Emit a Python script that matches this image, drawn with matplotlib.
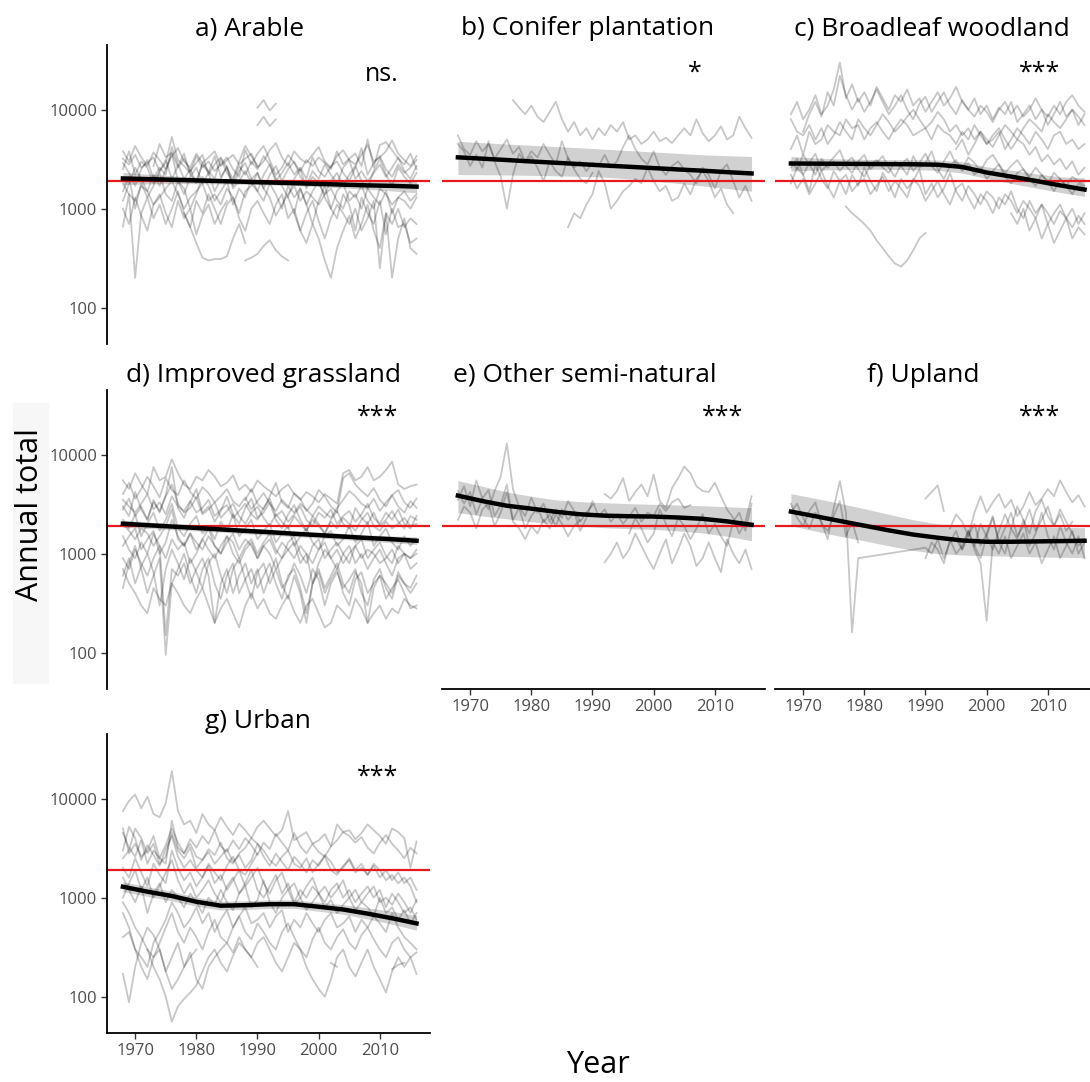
import numpy as np
import matplotlib.pyplot as plt
from matplotlib.ticker import FuncFormatter, NullLocator
from matplotlib.patches import Rectangle

plt.rcParams['font.family'] = ['Open Sans', 'DejaVu Sans']

# reference level (red line)
red_level = 1920

# years of the smoothed fits
fit_years = [1968, 1972, 1976, 1980, 1984, 1988, 1992, 1996, 2000, 2004, 2008, 2012, 2016]

# each site series: (first year, annual totals); None = missing year
arable = [
    (1968, [3200, 2800, 3500, 2600, 2900, 3300, 2400, 2900, 5300, 3100, 2700, 2300, 3400, 2600, 3000, 2400, 2800, 3300, 2500, 2100, 3900, 2800, 3600, 4300, 3100, 2200, 2600, 3500, 2900, 2400, 3100, 2700, 3300, 2900, 2500, 3800, 2800, 3200, 3600, 2700, 5000, 2600, 4400, 4700, 3900, 3200, 2800, 3600, 2500]),
    (1968, [1800, 1400, 1200, 1700, 1500, 1100, 1300, 1600, 1900, 1400, 1000, 1300, 1500, 1800, 1200, 1400, 1100, 1600, 1300, 900, 1500, 1700, 2300, 1600, 1300, 850, 1100, 1400, 1700, 1200, 1500, 1300, 1100, 1400, 1600, 1200, 1000, 1500, 1300, 1700, 1200, 1000, 1600, 1400, 1100, 1300, 1500, 1200, 1400]),
    (1968, [660, 1400, 200, 900, 1300, 800, 1100, 700, 1000, 1500, 900, 650, 1200, 900, 1400, 1000, 700, 1100, 1300, 800, 600, 1000, 1200, 900, 700, 1100, 1400, 800, 1000, 600, 900, 1200, 750, 500, 800, 1100, 900, 700, 1000, 600, 800, 1200, 250, 900, 700, 1000, 650, 800, 700]),
    (1968, [2500, 3800, 2200, 3000, 2600, 1800, 2400, 3100, 2000, 2700, 3600, 2200, 1900, 2800, 2300, 3400, 2100, 2600, 1700, 2400, 2900, 2000, 2300, 1600, 2200, 2700, 1900, 2500, 3000, 2100, 1700, 2400, 2000, 2800, 2200, 1800, 2600, 3100, 2000, 2400, 1900, 2300, 2800, 2100, 2600, 3300, 2400, 2000, 2700]),
    (1968, [1200, 1800, 2600, 2000, 1500, 2200, 1700, 2500, 3600, 1900, 1400, 2100, 2600, 1800, 2300, 1500, 2000, 2700, 1600, 1900, 2400, 1800, 1500, 2200, 2800, 2000, 1700, 1300, 2000, 2500, 1600, 2100, 1800, 1400, 1900, 2300, 1700, 2200, 2700, 1900, 1600, 2400, 3200, 2200, 1700, 2600, 2100, 1800, 2300]),
    (1968, [2900, 2300, 1700, 2500, 3100, 2000, 2600, 2200, 4200, 2800, 2000, 2500, 1800, 2900, 2400, 2000, 3200, 2300, 1900, 2700, 2200, 3000, 2500, 3400, 2800, 1900, 2300, 2900, 2200, 2600, 2000, 3300, 2400, 2100, 2700, 3000, 2300, 1900, 2600, 4100, 2200, 2900, 3400, 2500, 2100, 2800, 2300, 2600, 3100]),
    (1968, [1500, 2100, 1000, 1800, 1300, 1700, 2300, 1400, 1200, 1900, 1600, 1000, 1400, 2100, 1700, 1200, 1500, 1900, 1100, 1600, 1300, 2000, 1500, 1200, 1800, 1400, 1000, 1700, 1300, 1600, 1100, 1500, 1900, 1300, 1000, 1500, 1800, 1200, 1400, 1000, 1600, 1300, 1100, 1500, 900, 1300, 1200, 1000, 1300]),
    (1968, [3800, 3000, 4300, 3300, 2700, 3700, 3100, 2500, 3400, 4100, 3000, 2600, 3600, 2900, 3300, 3800, 2700, 3100, 3500, 2800, 3200, 3600, 2600, 3000, 3900, 4600, 3300, 2700, 3800, 3200, 2900, 3500, 4200, 3000, 2600, 3400, 3900, 3100, 2800, 3500, 4400, 3000, 3300, 3800, 4900, 3600, 3100, 2700, 3400]),
    (1968, [1000, 700, 1300, 850, 600, 1100, 1400, 900, 650, 1200, 800, 1000, 550, 850, 1100, 700, 950, 1200]),
    (1995, [1300, 900, 1600, 1100, 700, 1200, 1700, 1000, 800, 1400, 1100, 600, 1300, 900, 700, 1200, 550, 1000, 650, 700, 450, 500]),
    (1973, [2700, 4500, 3300, 3700, 2600, 3200, 2400, 2900, 3500, 2200, 2800, 3300, 2600, 2000, 3000, 4300, 3400, 2700]),
    (1990, [10500, 12500, 9800, 11500]),
    (1990, [7000, 8500, 6800, 8000]),
    (1978, [900, 650, 450, 320, 300, 310, 310, 330, 500, 700, 450]),
    (1988, [300, 320, 350, 420, 480, 380, 330, 300]),
    (1996, [900, 600, 450, 700, 500, 300, 200, 400, 600, 850, 500, 700, 1100, 600, 400, 900, 200, 500, 800, 400, 350]),
]
arable_fit = [2020, 1990, 1960, 1930, 1900, 1870, 1840, 1810, 1780, 1750, 1720, 1700, 1670]
arable_lo = [1750, 1780, 1790, 1790, 1780, 1760, 1740, 1710, 1670, 1620, 1570, 1510, 1450]
arable_hi = [2330, 2230, 2150, 2080, 2020, 1980, 1950, 1920, 1900, 1890, 1890, 1900, 1920]

conifer = [
    (1977, [12500, 10500, 9000, 11000, 8500, 7500, 9500, 12000, 8000, 6000, 7500, 5500, 6500, 5000, 6500, 5500, 7000, 6000, 7500, 5000, 5500, 4500, 5000, 6000, 4800, 5200, 4600, 5500, 6500, 5500, 8000, 5800, 4800, 5500, 6800, 5000, 5500, 8500, 6500, 5200]),
    (1968, [5500, 4000, 3500, 4800, 3800, 4500, 3200, 4000, 5000, 3600, 4200, 3000, 3800, 3300, 4500, 3500, 2800, 4800, 3200, 2600, 3000, 2400, 2900, 2700, 3500, 2600, 3000, 4200, 5500, 4000, 3200, 2800, 3800, 2600, 2200, 2700, 3000, 2500, 2200, 1800, 2600, 2200, 1600, 2400, 2800, 1900, 1300, 1700, 1200]),
    (1968, [4500, 3800, 2700, 3500, 2600, 4800, 3000, 2100, 1000, 2200, 3600, 2900, 3400, 2600, 1900, 3000, 2400, 2100, 3300, 2500, 2000, 1800, 2300]),
    (1986, [650, 900, 800, 1100, 1400, 2400, 1800, 1000, 1200, 1500, 1700, 2000, 1800, 2600, 1900, 1500, 1700, 1200, 1300, 1800, 1400, 2000, 2400, 1900, 1300, 1600, 1100, 900]),
]
conifer_fit = [3300, 3200, 3100, 3000, 2910, 2820, 2730, 2650, 2570, 2490, 2420, 2340, 2270]
conifer_lo = [2210, 2200, 2190, 2170, 2150, 2120, 2080, 2000, 1900, 1800, 1700, 1600, 1500]
conifer_hi = [4790, 4640, 4500, 4370, 4240, 4120, 3990, 3860, 3740, 3620, 3500, 3430, 3370]

broadleaf = [
    (1968, [9000, 12000, 8000, 10000, 14000, 9000, 11000, 16000, 30000, 13000, 18000, 12000, 15000, 11000, 17000, 13000, 10000, 14000, 12000, 16000, 11000, 13000, 9500, 12000, 15000, 11000, 13000, 17000, 12000, 10000, 13000, 9000, 11000, 8000, 10500, 9000, 12000, 7500, 9000, 11000, 8000, 10000, 7000, 9000, 12000, 8500, 10000, 7000, 9000]),
    (1968, [4000, 5500, 3500, 6000, 4500, 5000, 7000, 6000, 5500, 8000, 6500, 7000, 5000, 6500, 7500, 6000, 5000, 6500, 8000, 7000, 5500, 6000, 6500, 5000, 7000, 6000, 5500, 4500, 6000, 5000, 7000, 5500, 4500, 5000, 6000, 4000, 5000, 6500, 5500, 4500, 6000, 5000, 4000, 5500, 6000, 4500, 5000, 4000, 4500]),
    (1968, [3000, 2500, 3500, 2800, 2200, 3200, 2600, 3000, 2400, 2900, 3300, 2500, 2100, 2800, 3100, 2600, 2300, 3000, 2700, 2200, 3400, 2600, 2900, 3800, 2500, 2000, 2700, 3100, 2400, 2900, 2200, 2600, 2000, 2400, 2800, 2100, 1800, 2300, 2500, 2000, 1700, 2200, 1900, 1500, 2000, 1700, 1400, 1800, 1600]),
    (1968, [2200, 1600, 2000, 1400, 1800, 2400, 1700, 1300, 1900, 2200, 1500, 1800, 2000, 1400, 1700, 2100, 1500, 1900, 1600, 1300, 2000, 1700, 1200, 1500, 1900, 1400, 1100, 1600, 1800, 1300, 1000, 1400, 1200, 900, 1300, 1100, 1500, 1000, 800, 1200, 900, 1100, 700, 900, 1100, 800, 1000, 700, 900]),
    (1968, [8000, 6000, 5500, 7000, 5000, 6500, 4500, 5500, 7500, 6000, 5000, 8000, 6500, 5500, 7000, 9000, 7500, 6000, 7000, 8500, 10000, 8000, 6500, 7500, 9500, 8000, 6000, 7000, 5500, 6500, 5000, 6000, 4500, 5500, 6500, 5000, 4000, 5000, 4500, 3500, 4200, 3000, 3500, 2800, 3200, 2500, 3000, 2200, 2600]),
    (1968, [1800, 2600, 2200, 1500, 2800, 2000, 1600, 2400, 1900, 1400, 2200, 1700, 2600, 1900, 1500, 2300, 1800, 1300, 2000, 1600, 1900, 2500, 1400, 1800, 1300, 1600, 2300, 1500, 1200, 1700, 1400, 1100, 1500, 1300, 1000, 1400, 1200, 900, 1200, 1000, 800, 1100, 900, 700, 950, 800, 650, 850, 700]),
    (1968, [2600, 3200, 2200, 2900, 3600, 2400, 2800, 3300, 3900, 2700, 2300, 3000, 3500, 2500, 2900, 3400, 2600, 2100, 2800, 3200, 2400, 2900, 3600, 2700, 2300, 3000, 3800, 2800, 2500, 3300, 2900, 2400, 3100, 3500, 2800, 2300, 2700, 3100, 2500, 2100, 2600, 2200, 1800, 2300, 2000, 1700, 2100, 1900, 1700]),
    (1970, [6000, 9000, 12000, 8500, 15000, 11000, 22000, 14000, 10000, 13000, 9500, 12000, 16000, 12000, 9000, 11000, 14000, 10000, 8000, 11500, 13500, 9500, 12000, 15000, 11000, 9000, 12500, 10000, 8500, 11000, 9500, 7500, 10000, 12000, 9000, 11000, 8500, 10000, 13000, 10000, 8500, 11000, 9000, 12000, 14000, 11000, 9500]),
    (1977, [1050, 900, 800, 700, 600, 480, 400, 330, 280, 260, 300, 380, 500, 570]),
    (1995, [4000, 5000, 3500, 4500, 6000, 5000, 4200, 5500, 7000, 6000, 5000, 6500, 8000, 7000, 6000, 9000, 7500, 6500, 8000, 10000, 8500, 7000]),
    (2004, [900, 700, 1000, 600, 800, 500, 700, 450, 600, 800, 500, 650, 550]),
]
broadleaf_fit = [2860, 2850, 2840, 2830, 2820, 2810, 2780, 2640, 2320, 2110, 1910, 1720, 1560]
broadleaf_lo = [2400, 2450, 2480, 2500, 2500, 2480, 2440, 2290, 2010, 1800, 1620, 1460, 1330]
broadleaf_hi = [3370, 3250, 3180, 3150, 3130, 3120, 3100, 2980, 2650, 2450, 2250, 2100, 2050]

grassland = [
    (1968, [5500, 4500, 6500, 5000, 4000, 7500, 5500, 6000, 9000, 6500, 5000, 4500, 6000, 5500, 7000, 6000, 4800, 5200, 6200, 4400, 5000, 4200, 5500, 4800, 4300, 3800, 4500, 5000, 4000, 3500, 4200, 3800, 3300, 4000, 3600, 3200, 6500, 7000, 5500, 6000, 7500, 5500, 6000, 7000, 8500, 5000, 4500, 4800, 5000]),
    (1968, [3500, 3000, 2600, 3200, 4000, 2800, 3300, 2500, 3800, 3000, 2700, 3400, 2600, 2900, 3500, 2400, 2800, 3100, 2300, 2700, 3200, 2500, 2200, 2900, 3600, 2400, 2700, 2100, 2500, 3000, 2200, 1900, 2600, 2300, 2800, 2000, 2400, 2700, 2100, 2500, 3200, 2300, 2000, 2600, 2200, 2800, 2000, 1800, 2400]),
    (1968, [2200, 1800, 2500, 1500, 2000, 2600, 1700, 2200, 3200, 1800, 1500, 2000, 2400, 1600, 1900, 1400, 2100, 1700, 2500, 1500, 1800, 2200, 1400, 1700, 2000, 1300, 1600, 1900, 1200, 1500, 1800, 1300, 1100, 1500, 1700, 1200, 1400, 1900, 1300, 1600, 2100, 1200, 1500, 1800, 1300, 1100, 1500, 1200, 1400]),
    (1968, [1500, 1100, 900, 1300, 1000, 1600, 1200, 900, 1400, 1100, 1300, 800, 1000, 1400, 1100, 900, 1200, 1500, 1000, 800, 1100, 1300, 900, 1200, 1000, 700, 900, 1100, 1300, 800, 1000, 500, 800, 1100, 900, 700, 1000, 1200, 800, 1000, 700, 900, 1100, 800, 600, 900, 1000, 700, 800]),
    (1968, [450, 800, 1200, 700, 400, 600, 900, 95, 500, 700, 1000, 600, 400, 700, 900, 500, 350, 600, 800, 400, 550, 700, 450, 600, 800, 500, 350, 600, 700, 450, 250, 500, 650, 400, 550, 700, 400, 300, 550, 650, 400, 500, 600, 350, 450, 550, 400, 280, 300]),
    (1968, [700, 500, 400, 300, 250, 450, 350, 300, 500, 400, 300, 250, 350, 450, 300, 200, 280, 350, 250, 180, 300, 400, 280, 350, 250, 220, 300, 380, 260, 200, 300, 350, 250, 180, 200, 300, 260, 220, 350, 280, 200, 250, 300, 220, 280, 250, 350, 300, 280]),
    (1968, [4000, 5200, 3600, 4500, 6000, 4800, 3700, 5800, 4400, 3900, 5500, 4200, 3600, 4700, 4100, 3300, 3800, 4500, 3400, 3000, 3700, 2800, 3400, 4100, 3200, 2700, 3500, 3000, 2600, 3200, 2800, 2400, 3000, 2600, 2300, 2900, 3500, 4300, 3800, 3200, 2900, 3600, 2700, 3300, 3900, 3000, 2600, 3400, 2900]),
    (1968, [1200, 1500, 1800, 1100, 1400, 1700, 1000, 1300, 2200, 1500, 1200, 1600, 1100, 1400, 1800, 1200, 1000, 1500, 1300, 900, 1200, 1400, 1000, 1300, 1600, 1100, 900, 1300, 1500, 1000, 800, 1200, 1400, 900, 1100, 1300, 1000, 800, 1200, 1400, 900, 1100, 1300, 950, 800, 1200, 1000, 900, 1100]),
    (1968, [2800, 3600, 2400, 3000, 2200, 3300, 2700, 3800, 5000, 3200, 2600, 2900, 3700, 2500, 2800, 3300, 2300, 2700, 3200, 2400, 2000, 2600, 3000, 2300, 1900, 2500, 2100, 1800, 2400, 2000, 1700, 2200, 1900, 1600, 2100, 1800, 2300, 2000, 1700, 2200, 2600, 1900, 1700, 2100, 1800, 2000, 2300, 1900, 2000]),
    (1968, [2000, 1700, 1400, 1800, 1600, 1200, 1500, 1900, 2800, 1400, 1200, 1600, 1300, 1100, 1500, 1200, 1000, 1300, 1600, 1100, 1400, 1200, 900, 1200, 1400, 1000, 1300, 1100, 900, 1200, 1000, 800, 1100, 1300, 900, 1100, 800, 1000, 1200, 900, 1100, 1000, 800, 900, 1100, 800, 1000, 900, 1000]),
    (1968, [900, 700, 1100, 800, 600, 900, 1200, 150, 700, 600, 800, 500, 700, 900, 600, 200, 500, 700, 400, 600, 800, 500, 700, 400, 600, 900, 500, 350, 600, 400, 200, 500, 700, 450, 600, 800, 500, 400, 650, 500, 200, 450, 600, 500, 400, 650, 500, 450, 600]),
    (1968, [3000, 2400, 4200, 2800, 2200, 3500, 2600, 3900, 7500, 2900, 2300, 3300, 4500, 2600, 3000, 2100, 2700, 3800, 2500, 2000, 2900, 3600, 2300, 2600, 3300, 2200, 1800, 2500, 3100, 2200, 1700, 2400, 2000, 1600, 2200, 2700, 2000, 1800, 2900, 2300, 2000, 2600, 1900, 2200, 2700, 2100, 1800, 2400, 2200]),
    (1968, [600, 900, 500, 750, 1000, 650, 300, 700, 1100, 800, 550, 900, 650, 450, 800, 1000, 600, 400, 700, 900, 550, 350, 650, 800, 500, 700, 450, 550, 800, 600, 400, 700, 550, 300, 500, 650, 450, 550, 700, 400, 300, 550, 700, 450, 350, 600, 500, 400, 500]),
    (1988, [3500, 4500, 3200, 2800, 3800, 5200, 3300, 2900, 4100, 3600, 2700, 3200, 4400, 3800, 3000, 2600, 5800, 6500, 5000, 4300, 3800, 4600, 3500, 3000, 3900, 4400, 3300, 2900, 3600]),
]
grassland_fit = [2010, 1940, 1880, 1820, 1760, 1700, 1650, 1590, 1540, 1490, 1440, 1400, 1350]
grassland_lo = [1850, 1800, 1750, 1700, 1650, 1590, 1540, 1490, 1440, 1390, 1340, 1290, 1240]
grassland_hi = [2180, 2090, 2020, 1950, 1880, 1820, 1760, 1700, 1650, 1600, 1550, 1510, 1480]

seminatural = [
    (1968, [3500, 4800, 3000, 5500, 3600, 2800, 4300, 6000, 13000, 4500, 3000, 2400, 3700, 2600, 3200, 2100, 2800, 2300, 3400, 2700, 2100, 2600, 3100]),
    (1968, [4300, 3200, 4200, 2500, 3600, 4400, 2400, 3100, 5000, 2200, 2900, 1800, 2400, 2900, 2100, 2500, 1900, 2800, 2200, 2600, 1700, 2300, 3400, 2400, 2800, 2100, 2500, 2000, 2400, 2900, 2100, 2600, 2400, 3200, 2700, 3300, 3600, 2900, 3100]),
    (1968, [2200, 3000, 2600, 1800, 2800, 3200, 1900, 2600, 4200, 2100, 1800, 1400, 1900, 1600, 2200, 1800, 2500, 2000, 1500, 1900, 2200]),
    (1992, [4000, 3600, 4300, 5800, 3400, 4200, 5000, 3800, 6300, 3400, 2900, 4600, 5800, 7600, 6500, 4800, 4300, 4200, 5200, 3800, 2800, 2300, 1600, 2100, 3800]),
    (1992, [820, 1000, 1300, 900, 1100, 1600, 1200, 900, 700, 1000, 1400, 800, 1100, 1600, 1200, 750, 900, 1300, 900, 650, 1400, 1000, 800, 1100, 700]),
    (1996, [1600, 2300, 1800, 1300, 1600, 2800, 2000, 1500, 2300, 1900, 1400, 1800, 2500, 1600, 2000, 1500, 1200, 2100, 2600, 1700, 3200]),
]
seminatural_fit = [3860, 3400, 3050, 2850, 2650, 2500, 2420, 2390, 2370, 2320, 2250, 2120, 1960]
seminatural_lo = [2600, 2400, 2250, 2100, 1990, 1900, 1830, 1790, 1760, 1700, 1620, 1500, 1350]
seminatural_hi = [5460, 4800, 4200, 3800, 3500, 3350, 3270, 3200, 3150, 3100, 3050, 2980, 2910]

upland = [
    (1968, [2600, 3200, 2300, 1800, 2600, 2100, 1400, 2900, 5400, 2600, 160, 900, None, None, None, None, None, None, None, None, None, None, 1150, 1000, 1400, 900, 1300, 1700, 1100, 1500, 2000, 1200, 1600, 2400, 1300, 1800, 2600, 1500, 1900, 2800, 1700, 2200, 3000, 1900, 2500, 1700, 2100]),
    (1968, [3200, 2300, 1900, 2700, 3300, 2000, 1700, 2400, 3400, 1500, 2100, 1300]),
    (1990, [3600, 4200, 4900, 2700]),
    (1990, [900, 1300, 1100, 800, 1400, 1000, 1200, 1700, 1100, 800, 210, 1300, 1000, 1500, 900, 1200, 1600, 1000, 1300, 800, 1100, 1500, 900, 1200, 1700, 1000, 1300]),
    (1994, [1800, 2500, 2100, 1500, 2600, 3800, 2600, 3300, 4000, 2900, 3500, 2400, 3000, 4200, 3100, 3600, 4500, 3800, 5500, 4200, 3300, 3900, 3000]),
    (1995, [1400, 1100, 1700, 1200, 900, 1500, 2300, 1300, 1000, 1800, 1400, 2200, 1200, 1600, 2600, 1500, 1100, 1900, 1300, 1000, 1500, 900]),
    (1998, [1200, 2000, 1500, 1100, 1700, 2500, 1800, 3000, 2200, 1600, 2700, 3500, 2400, 1900, 2800, 2100, 1600, 1200, 1400]),
]
upland_fit = [2660, 2390, 2140, 1920, 1720, 1560, 1450, 1360, 1320, 1320, 1330, 1340, 1350]
upland_lo = [1920, 1690, 1500, 1350, 1200, 1080, 1000, 970, 955, 940, 930, 920, 910]
upland_hi = [4040, 3620, 3220, 2850, 2500, 2200, 2000, 1940, 1920, 1900, 1880, 1850, 1830]

urban = [
    (1968, [7500, 9500, 11000, 8000, 10500, 7000, 6500, 9000, 19000, 7500, 5500, 6000, 4500, 7000, 5500, 4800, 6500, 5200, 4300, 5600, 4800, 4000, 5200, 6000, 5000, 4200, 4800, 7500, 3800, 4200, 4600, 3500, 3800, 4400, 3300, 5500, 4600, 4800, 3900, 4500, 5500, 4800, 4200, 3500, 5000, 4600, 4000, 2000, 3700]),
    (1968, [5000, 2800, 3500, 2600, 3000, 4200, 2500, 2200, 6000, 3200, 2800, 3500, 2600, 2400, 3100, 2700, 3600, 2500, 2200, 2800, 3200, 4000, 3500, 3000, 2400, 2100, 2600, 3000, 2200, 2000, 2500, 1800, 2200, 2600, 1900, 1700, 2100, 2400, 1800, 2000, 1700, 2200, 1900, 1500, 1700, 1400, 1600, 1300, 900]),
    (1968, [1600, 1200, 900, 1300, 700, 1100, 1400, 900, 1200, 1000, 800, 1100, 900, 700, 1000, 850, 1200, 900, 750, 1100, 1300, 800, 950, 1500, 900, 700, 1000, 1200, 850, 1000, 750, 900, 1100, 800, 950, 700, 850, 1000, 750, 900, 800, 650, 1000, 700, 800, 600, 750, 550, 700]),
    (1968, [700, 500, 300, 250, 200, 350, 450, 600, 900, 700, 500, 600, 800, 550, 700, 450, 600, 750, 500, 650, 800, 550, 600, 700, 500, 650, 750, 450, 600, 500, 700, 550, 450, 600, 700, 500, 550, 650, 450, 600, 500, 650, 550, 450, 700, 500, 400, 350, 300]),
    (1968, [400, 450, 300, 200, 150, 250, 300, 180, 250, 350, 200, 280, 150, 120, 200, 250, 300, 350, 280, 400, 300, 250, 350, 400, 300, 220, 180, 250, 350, 300, 200, 150, 120, 100, 150, 250, 300, 200, 160, 220, 300, 200, 150, 110, 180, 250, 200, 250, 170]),
    (1968, [2000, 1600, 2500, 1800, 1300, 2200, 1700, 1400, 3000, 2000, 1500, 1800, 1300, 1600, 2100, 1400, 1700, 1200, 1500, 1900, 1300, 1600, 2000, 1400, 1100, 1500, 1800, 1200, 1400, 1000, 1300, 1600, 1100, 1300, 1000, 1200, 1500, 1000, 1200, 900, 1100, 1300, 900, 1000, 850, 1100, 900, 700, 950]),
    (1968, [900, 700, 500, 400, 300, 250, 350, 500, 700, 450, 350, 500, 400, 300, 450, 600, 400, 350, 500, 650, 450, 380, 550, 450, 350, 300, 450, 550, 400, 300, 250, 380, 500, 350, 300, 400, 480, 350, 300, 420, 500, 380, 300, 250, 350, 400, 300, 250, 280]),
    (1968, [170, 88, 200, 350, 500, 420, 300, 180, 120, 150, 200, 250, 300]),
    (1968, [3000, 5200, 4000, 2400, 3400, 2700, 2100, 3100, 4200, 2600, 2000, 2400, 1900, 1600, 2200, 1800, 1500, 2100, 2600, 1900, 1700, 2200, 2800]),
    (1972, [300, 200, 150, 100, 56, 80, 95, 110, 130, 180, 250, 300, 220, 180, 260, 350, 300, 250, 200]),
    (1968, [2500, 3000, 5000, 4000, 2800, 3500, 2200, 2600, 4500, 3000, 2500, 3200, 2000, 2400, 2900, 2200, 2600, 3100, 2300, 2700, 2000, 2400, 3500, 2600, 2100, 2800, 2300, 1900, 2600, 2200, 1800, 2400, 2100, 2700, 2300, 1800, 2000, 2500, 1900, 2200, 1700, 2100, 1600, 1900, 1500, 1800, 1400, 1600, 1200]),
    (1968, [1000, 1400, 1900, 1200, 1600, 1000, 1300, 1800, 2400, 1500, 1100, 1400, 1000, 1200, 1500, 1100, 900, 1300, 1600, 1100, 1400, 1900, 1200, 1000, 1300, 1700, 1100, 1400, 900, 1200, 1000, 1300, 1100, 900, 1200, 1400, 1000, 1200, 900, 1100, 1300, 1000, 1200, 800, 1100, 900, 700, 800, 600]),
    (1968, [4500, 3200, 2600, 3800, 2200, 3000, 2500, 3400, 5000, 3600, 2800, 3900, 3200, 4200, 3500, 4800, 3300, 2900, 3800, 3100, 4000, 3400, 2700, 3600, 3100, 4400, 3600, 3000, 4500, 3300, 2800, 3500, 2900, 2600, 3300, 3800, 4600, 4200, 3600, 4100, 3200, 2800, 3600, 4300, 3500, 3000, 2500, 3200, 2800]),
    (2002, [220, 200]),
    (2012, [190, 210, 220]),
]
urban_fit = [1290, 1150, 1040, 910, 830, 840, 860, 860, 810, 760, 690, 620, 550]
urban_lo = [1150, 1030, 930, 820, 750, 760, 780, 780, 730, 680, 610, 540, 470]
urban_hi = [1450, 1290, 1160, 1010, 920, 930, 950, 950, 900, 850, 790, 730, 660]

panels = [
    ('a) Arable', 'ns.', arable, arable_fit, arable_lo, arable_hi),
    ('b) Conifer plantation', '*', conifer, conifer_fit, conifer_lo, conifer_hi),
    ('c) Broadleaf woodland', '***', broadleaf, broadleaf_fit, broadleaf_lo, broadleaf_hi),
    ('d) Improved grassland', '***', grassland, grassland_fit, grassland_lo, grassland_hi),
    ('e) Other semi-natural', '***', seminatural, seminatural_fit, seminatural_lo, seminatural_hi),
    ('f) Upland', '***', upland, upland_fit, upland_lo, upland_hi),
    ('g) Urban', '***', urban, urban_fit, urban_lo, urban_hi),
]

W, H = 1090, 1082
fig = plt.figure(figsize=(W / 100, H / 100), dpi=100)

# faint box behind the y label
fig.patches.append(Rectangle((13 / W, 1 - 683 / H), 35 / W, 280 / H,
                             transform=fig.transFigure, color='#f7f7f7', zorder=0))

col_left = [107, 442, 775]
row_top = [45, 390, 734]
ax_w, ax_h = 323, 299
title_x = [[250, 588, 932], [263, 585, 923], [258]]
title_base = [35, 382, 728]
sig_pos = [(0.851, 0.90), (0.783, 0.906), (0.82, 0.906),
           (0.839, 0.91), (0.867, 0.91), (0.82, 0.91), (0.839, 0.856)]
bottom_panels = [4, 5, 6]

for i, (title, sig, series, fit, lo, hi) in enumerate(panels):
    r, c = divmod(i, 3)
    ax = fig.add_axes([col_left[c] / W, 1 - (row_top[r] + ax_h) / H, ax_w / W, ax_h / H])
    for start, vals in series:
        v = np.array([np.nan if x is None else x for x in vals], dtype=float)
        yrs = start + np.arange(len(v))
        ok = ~np.isnan(v)
        ax.plot(yrs[ok], v[ok], color='black', alpha=0.22, lw=1.3)
    ax.fill_between(fit_years, lo, hi, color='#999999', alpha=0.45, lw=0)
    ax.axhline(red_level, color='#e41a1c', lw=1.6)
    ax.plot(fit_years, fit, color='black', lw=3.2)

    ax.set_yscale('log')
    ax.set_ylim(43, 45000)
    ax.set_xlim(1965.4, 2018.2)
    ax.set_yticks([100, 1000, 10000])
    ax.yaxis.set_major_formatter(FuncFormatter(lambda v, p: f'{int(v)}'))
    ax.yaxis.set_minor_locator(NullLocator())
    ax.set_xticks([1970, 1980, 1990, 2000, 2010])
    ax.tick_params(length=4, width=1, color='#333333', labelcolor='#4d4d4d',
                   labelsize=12, pad=3)
    for s in ['top', 'right']:
        ax.spines[s].set_visible(False)
    if c != 0:
        ax.spines['left'].set_visible(False)
        ax.tick_params(left=False, labelleft=False)
    if i not in bottom_panels:
        ax.spines['bottom'].set_visible(False)
        ax.tick_params(bottom=False, labelbottom=False)
    for s in ['left', 'bottom']:
        ax.spines[s].set_linewidth(1.3)

    ax.text(sig_pos[i][0], sig_pos[i][1], sig, transform=ax.transAxes,
            ha='center', va='center', fontsize=18)
    fig.text(title_x[r][c] / W, 1 - title_base[r] / H, title,
             ha='center', va='baseline', fontsize=19)

fig.text(30 / W, 1 - 515 / H, 'Annual total', rotation=90,
         ha='center', va='center', fontsize=22)
fig.text(598 / W, 1 - 1065 / H, 'Year', ha='center', va='center', fontsize=22)

fig.savefig('out.png', dpi=100)
